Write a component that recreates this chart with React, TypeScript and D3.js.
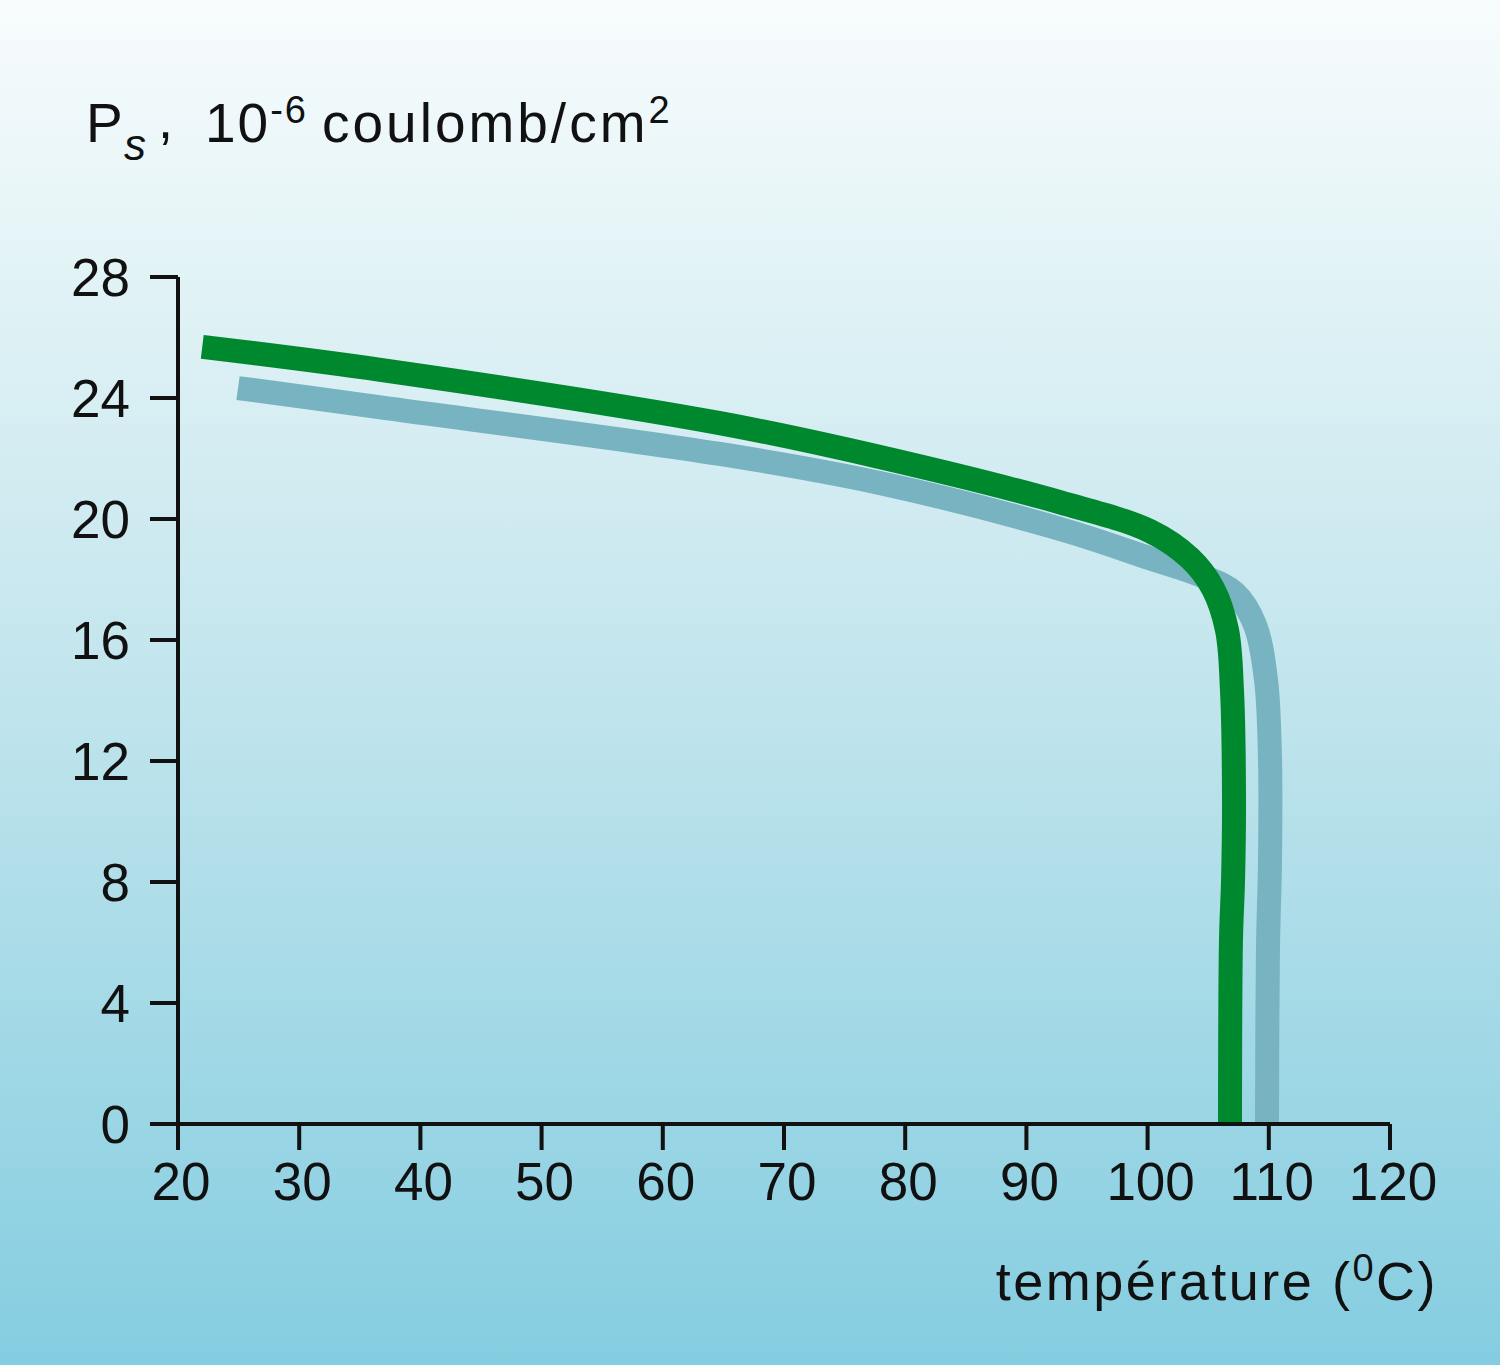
import React from "react";
import * as d3 from "d3";

const xTicks = [20, 30, 40, 50, 60, 70, 80, 90, 100, 110, 120];
const yTicks = [0, 4, 8, 12, 16, 20, 24, 28];

// Green curve (temperature °C, Ps 10^-6 C/cm²)
const greenT = [22.0, 36.7, 64.7, 77.9, 92.8, 100.2, 103.5, 105.4, 106.55, 106.96, 107.13, 107.05, 106.88, 106.8];
const greenP = [25.69, 24.93, 23.17, 22.05, 20.55, 19.6, 18.7, 17.7, 16.33, 14.35, 10.71, 8.07, 6.08, 0];

// Grey-blue curve
const blueT = [24.95, 36.7, 64.7, 77.9, 92.8, 100.2, 104.3, 107.2, 108.86, 109.77, 110.1, 110.1, 109.93, 109.85];
const blueP = [24.33, 23.69, 22.15, 21.19, 19.67, 18.7, 18.15, 17.55, 16.5, 14.68, 12.03, 8.73, 5.75, 0];

const W = 1500;
const H = 1365;

export default function App() {
  const x = d3.scaleLinear().domain([20, 120]).range([178, 1390]);
  const y = d3.scaleLinear().domain([0, 28]).range([1124, 277]);

  const line = d3
    .line<[number, number]>()
    .x((d) => x(d[0]))
    .y((d) => y(d[1]))
    .curve(d3.curveCatmullRom.alpha(0.5));

  const green = line(greenT.map((t, i) => [t, greenP[i]] as [number, number])) || "";
  const blue = line(blueT.map((t, i) => [t, blueP[i]] as [number, number])) || "";

  const font = "'Liberation Sans', Arial, Helvetica, sans-serif";

  return (
    <svg
      width={W}
      height={H}
      viewBox={`0 0 ${W} ${H}`}
      style={{ position: "absolute", left: 0, top: 0, display: "block" }}
      fontFamily={font}
    >
      <defs>
        <linearGradient id="bg" x1="0" y1="0" x2="0" y2="1">
          <stop offset="0" stopColor="#f8fcfd" />
          <stop offset="0.2" stopColor="#e2f3f6" />
          <stop offset="0.5" stopColor="#c2e5ed" />
          <stop offset="1" stopColor="#84cde0" />
        </linearGradient>
      </defs>
      <rect x={0} y={0} width={W} height={H} fill="url(#bg)" />

      {/* curves */}
      <path d={blue} fill="none" stroke="#78b3c2" strokeWidth={24} strokeLinecap="butt" strokeLinejoin="round" />
      <path d={green} fill="none" stroke="#00882f" strokeWidth={24} strokeLinecap="butt" strokeLinejoin="round" />

      {/* axes */}
      <g stroke="#111" strokeWidth={4} fill="none">
        <line x1={x(20)} y1={y(28)} x2={x(20)} y2={y(0)} />
        <line x1={x(20)} y1={y(0)} x2={x(120)} y2={y(0)} />
        {yTicks.map((t) => (
          <line key={"yt" + t} x1={x(20) - 28} x2={x(20)} y1={y(t)} y2={y(t)} />
        ))}
        {xTicks.map((t) => (
          <line key={"xt" + t} x1={x(t)} x2={x(t)} y1={y(0)} y2={y(0) + 26} />
        ))}
      </g>

      <g fill="#111" fontSize={53}>
        {yTicks.map((t) => (
          <text key={"yl" + t} x={130} y={y(t) + 19} textAnchor="end">
            {t}
          </text>
        ))}
        {xTicks.map((t) => (
          <text key={"xl" + t} x={x(t) + 3} y={1200} textAnchor="middle">
            {t}
          </text>
        ))}
      </g>

      {/* y-axis title */}
      <g fill="#111">
        <text x={86} y={142} fontSize={55}>P</text>
        <text x={124} y={160} fontSize={44} fontStyle="italic">s</text>
        <text x={158} y={138} fontSize={54}>,</text>
        <text x={205} y={142} fontSize={55} letterSpacing={2}>
          10
          <tspan dy={-19} fontSize={38}>-6</tspan>
          <tspan dy={19} dx={14} letterSpacing={3}>coulomb/cm</tspan>
          <tspan dy={-19} fontSize={38}>2</tspan>
        </text>
      </g>

      {/* x-axis title */}
      <text x={1438} y={1300} fontSize={54} textAnchor="end" fill="#111" letterSpacing={2.5}>
        température (
        <tspan dy={-19} fontSize={38}>0</tspan>
        <tspan dy={19}>C)</tspan>
      </text>
    </svg>
  );
}
